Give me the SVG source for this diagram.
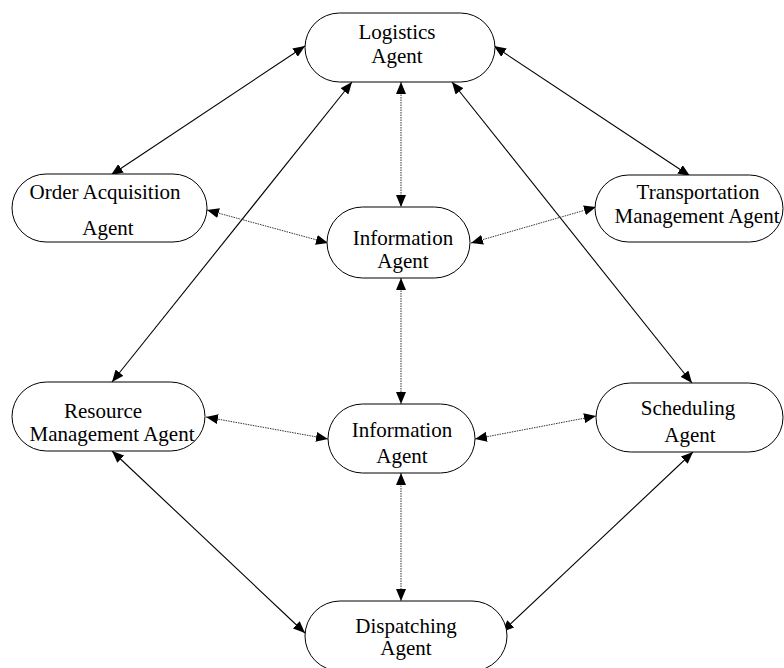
<svg xmlns="http://www.w3.org/2000/svg" width="784" height="668" viewBox="0 0 784 668">
<style>
.node rect{fill:#fff;stroke:#000;stroke-width:1}
.node text{font-family:"Liberation Serif","Times New Roman",serif;font-size:21px;fill:#000;text-anchor:middle}
.solid{stroke:#000;stroke-width:1.1;fill:none}
.dot{stroke:#333;stroke-width:1;stroke-dasharray:1.5 1;fill:none}
</style>
<defs>
<marker id="ah" viewBox="0 0 12 10" refX="12" refY="5" markerWidth="12" markerHeight="10" markerUnits="userSpaceOnUse" orient="auto-start-reverse">
<path d="M0,0 L12,5 L0,10 Z" fill="#000"/>
</marker>
</defs>
<rect width="784" height="668" fill="#fff"/>
<g id="connectors">
<line class="solid" x1="305" y1="46" x2="111" y2="175" marker-start="url(#ah)" marker-end="url(#ah)"/>
<line class="solid" x1="494" y1="46" x2="690" y2="176" marker-start="url(#ah)" marker-end="url(#ah)"/>
<line class="solid" x1="352" y1="82" x2="112" y2="382" marker-start="url(#ah)" marker-end="url(#ah)"/>
<line class="solid" x1="452" y1="82" x2="692" y2="383" marker-start="url(#ah)" marker-end="url(#ah)"/>
<line class="solid" x1="112" y1="451" x2="305" y2="633" marker-start="url(#ah)" marker-end="url(#ah)"/>
<line class="solid" x1="693" y1="452" x2="502" y2="632" marker-start="url(#ah)" marker-end="url(#ah)"/>
<line class="dot" x1="401" y1="82" x2="401" y2="207" marker-start="url(#ah)" marker-end="url(#ah)"/>
<line class="dot" x1="401" y1="278" x2="401" y2="404" marker-start="url(#ah)" marker-end="url(#ah)"/>
<line class="dot" x1="401" y1="473" x2="401" y2="601" marker-start="url(#ah)" marker-end="url(#ah)"/>
<line class="dot" x1="207" y1="210" x2="328" y2="243" marker-start="url(#ah)" marker-end="url(#ah)"/>
<line class="dot" x1="471" y1="243" x2="596" y2="207" marker-start="url(#ah)" marker-end="url(#ah)"/>
<line class="dot" x1="206" y1="417" x2="328" y2="439" marker-start="url(#ah)" marker-end="url(#ah)"/>
<line class="dot" x1="475" y1="439" x2="596" y2="416" marker-start="url(#ah)" marker-end="url(#ah)"/>
</g>
<g id="logistics" class="node">
<rect x="305" y="13" width="190" height="69" rx="34.5"/>
<text x="397" y="39">Logistics</text>
<text x="397" y="63">Agent</text>
</g>
<g id="order" class="node">
<rect x="12" y="174" width="195" height="68" rx="34"/>
<text x="105" y="199">Order Acquisition</text>
<text x="108" y="235">Agent</text>
</g>
<g id="transport" class="node">
<rect x="595" y="175" width="188" height="67" rx="33.5"/>
<text x="698" y="199">Transportation</text>
<text x="697" y="223">Management Agent</text>
</g>
<g id="info1" class="node">
<rect x="327" y="207" width="143" height="71" rx="35.5"/>
<text x="403" y="245">Information</text>
<text x="403" y="268">Agent</text>
</g>
<g id="resource" class="node">
<rect x="12" y="382" width="193" height="69" rx="34.5"/>
<text x="103" y="418">Resource</text>
<text x="112" y="441">Management Agent</text>
</g>
<g id="info2" class="node">
<rect x="328" y="404" width="147" height="69" rx="34.5"/>
<text x="402" y="437">Information</text>
<text x="402" y="463">Agent</text>
</g>
<g id="scheduling" class="node">
<rect x="596" y="383" width="187" height="69" rx="34.5"/>
<text x="688" y="415">Scheduling</text>
<text x="690" y="442">Agent</text>
</g>
<g id="dispatching" class="node">
<rect x="305" y="601" width="202" height="70" rx="35"/>
<text x="406" y="633">Dispatching</text>
<text x="406" y="655">Agent</text>
</g>
</svg>
